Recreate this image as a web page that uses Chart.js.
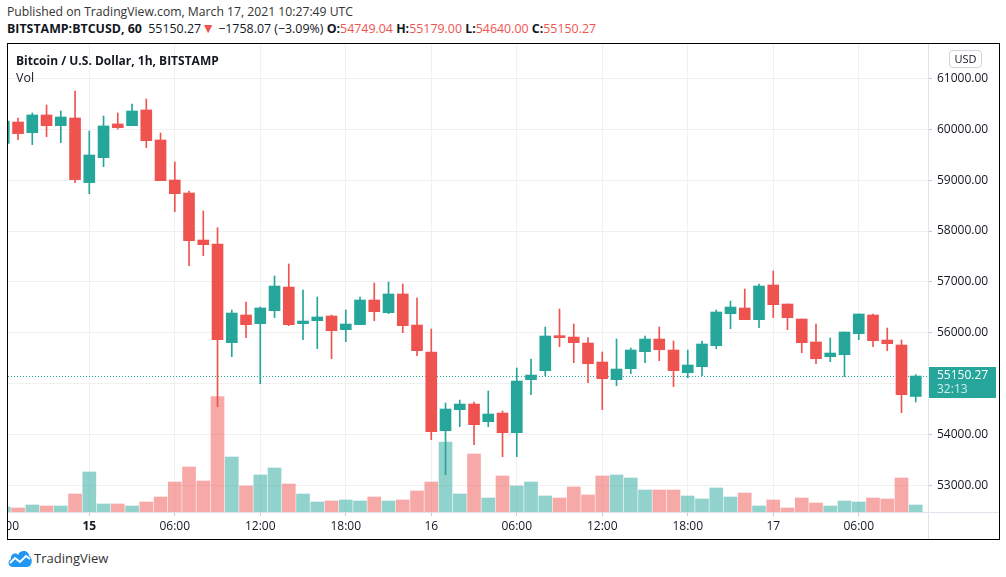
<!DOCTYPE html>
<html>
<head>
<meta charset="utf-8">
<script src="https://cdn.jsdelivr.net/npm/chart.js@4.4.1/dist/chart.umd.min.js"></script>
<style>
  body { margin: 0; background: #fff; width: 1006px; height: 577px; position: relative; overflow: hidden;
         font-family: "Open Sans", sans-serif; color: #131722; }
  .abs { position: absolute; white-space: nowrap; }
  #hdr1 { left: 7px; top: 3px; font-size: 12.2px; color: #333; }
  #hdr2 { left: 7px; top: 20px; font-size: 12.4px; line-height: 17px; color: #131722; }
  #hdr2 b { font-weight: 700; }
  .red { color: #ef5350; }
  .tri { color: #ef5350; font-size: 14px; line-height: 10px; }
  #box { left: 7px; top: 43px; width: 993px; height: 497px; border: 1px solid #000; box-sizing: border-box; }
  #pane { left: 8px; top: 44px; width: 991px; height: 495px; }
  #title { left: 16px; top: 52px; font-size: 12px; font-weight: 700; }
  #vol { left: 16px; top: 69px; font-size: 12.5px; }
  #usd { left: 949px; top: 50px; width: 33px; height: 18px; border: 1px solid #d1d4dc; border-radius: 4px;
         box-sizing: border-box; font-size: 11px; line-height: 16px; text-align: center; background: #fff; }
  #logo { left: 7px; top: 549px; }
  #brand { left: 34px; top: 549px; font-size: 13px; color: #333; }
</style>
</head>
<body>
<div id="hdr1" class="abs">Published on TradingView.com, March 17, 2021 10:27:49 UTC</div>
<div id="hdr2" class="abs"><b>BITSTAMP:BTCUSD, 60</b>&nbsp; 55150.27<span class="tri">▼</span> −1758.07 (−3.09%) <b>O:</b><span class="red">54749.04</span> <b>H:</b><span class="red">55179.00</span> <b>L:</b><span class="red">54640.00</span> <b>C:</b><span class="red">55150.27</span></div>
<div id="box" class="abs"></div>
<div id="pane" class="abs"><canvas id="c"></canvas></div>
<div id="title" class="abs">Bitcoin / U.S. Dollar, 1h, BITSTAMP</div>
<div id="vol" class="abs">Vol</div>
<div id="usd" class="abs">USD</div>
<svg id="logo" class="abs" width="26" height="18" viewBox="0 0 26 18">
  <path d="M6 18 C1 18 0 12 4 10 C3 5 9 3 11 6 C13 0 22 1 22 7 C26 8 26 18 20 18 Z" fill="#2196f3"/>
  <polyline points="3,14 8,9 13,13 19,7 23,10" fill="none" stroke="#fff" stroke-width="2"/>
</svg>
<div id="brand" class="abs">TradingView</div>

<script>
// hourly candles, Mar 14 18:00 -> Mar 17 10:00 (index 0..64)
const opens  = [59725, 60144, 59934, 60282, 60072, 60223, 58952, 59443, 60105, 60072,
                60380, 59790, 59004, 58748, 57824, 57746, 55806, 56350, 56180, 56435,
                56900, 56180, 56239, 56330, 56062, 56160, 56645, 56396, 56763, 56153,
                55623, 54076, 54489, 54600, 54253, 54423, 54037, 55079, 55256, 55944,
                55917, 55800, 55426, 55079, 55295, 55629, 55878, 55662, 55216, 55334,
                55747, 56376, 56488, 56258, 56940, 56566, 56271, 55819, 55531, 55570,
                55983, 56350, 55858, 55760, 54749.04];
const highs  = [60200, 60223, 60321, 60478, 60360, 60754, 59967, 60262, 60321, 60498,
                60596, 59928, 59358, 58788, 58395, 58067, 56448, 56606, 56507, 57117,
                57353, 56842, 56704, 56350, 56448, 56704, 56979, 56999, 56959, 56684,
                56075, 54620, 54679, 54640, 54856, 54463, 55308, 55485, 56114, 56468,
                56173, 55904, 55623, 55878, 55701, 55937, 56114, 55839, 55662, 55839,
                56448, 56625, 56861, 56959, 57215, 56566, 56271, 56173, 55898, 56016,
                56370, 56370, 56094, 55858, 55179.00];
const lows   = [59700, 59797, 59699, 59856, 59738, 58952, 58735, 59266, 60007, 60072,
                59640, 58991, 58381, 57320, 57516, 54548, 55531, 55904, 55000, 56298,
                56140, 55865, 55688, 55492, 55826, 56160, 56239, 56376, 56003, 55550,
                53899, 53211, 54155, 53801, 54155, 53565, 53565, 54784, 55157, 55727,
                55413, 55020, 54489, 54961, 55197, 55413, 55452, 54941, 55118, 55157,
                55688, 56081, 56258, 56101, 56298, 56062, 55609, 55393, 55433, 55138,
                55865, 55727, 55649, 54430, 54640.00];
const closes = [60164, 59915, 60282, 60072, 60242, 59011, 59495, 60066, 60033, 60360,
                59777, 58991, 58735, 57811, 57733, 55865, 56389, 56160, 56488, 56920,
                56160, 56232, 56311, 56042, 56173, 56645, 56416, 56763, 56140, 55649,
                54056, 54502, 54600, 54194, 54404, 54037, 55052, 55170, 55937, 55904,
                55806, 55393, 55098, 55288, 55662, 55878, 55668, 55256, 55367, 55780,
                56409, 56507, 56258, 56920, 56553, 56298, 55806, 55492, 55603, 56016,
                56370, 55845, 55786, 54784, 55150.27];
const volumes = [100, 80, 140, 120, 120, 360, 800, 160, 160, 120,
                 200, 300, 600, 900, 620, 2307, 1100, 520, 740, 880,
                 560, 360, 200, 220, 240, 220, 300, 220, 240, 420,
                 600, 1400, 360, 1160, 280, 720, 520, 600, 320, 280,
                 500, 340, 720, 740, 680, 440, 440, 440, 320, 260,
                 480, 300, 380, 120, 240, 80, 280, 180, 120, 220,
                 200, 280, 260, 680, 140];
const tickIndex  = [0, 6, 12, 18, 24, 30, 36, 42, 48, 54, 60];
const tickLabels = ['18:00', '15', '06:00', '12:00', '18:00', '16', '06:00', '12:00', '18:00', '17', '06:00'];
const tickBold   = ['15'];
const priceTicks = [53000, 54000, 55000, 56000, 57000, 58000, 59000, 60000, 61000];
const lastClose = 55150.27;
const countdown = '32:13';

const UP = '#26a69a', DOWN = '#ef5350';
const UP_VOL = 'rgba(38,166,154,0.5)', DOWN_VOL = 'rgba(239,83,80,0.5)';
const FONT = '"Open Sans", sans-serif';

const isUp = opens.map((o, i) => closes[i] >= o);
const candleColors = isUp.map(u => u ? UP : DOWN);

const overlay = {
  id: 'overlay',
  beforeDatasetsDraw(chart) {
    const { ctx, chartArea } = chart;
    const y = Math.round(chart.scales.y.getPixelForValue(lastClose)) + 0.5;
    ctx.save();
    ctx.strokeStyle = UP;
    ctx.lineWidth = 1;
    ctx.setLineDash([1, 2]);
    ctx.beginPath();
    ctx.moveTo(chartArea.left, y);
    ctx.lineTo(chartArea.right + 8, y);
    ctx.stroke();
    ctx.restore();
  },
  afterDraw(chart) {
    const { ctx, chartArea, width, height } = chart;
    ctx.save();
    ctx.strokeStyle = '#e0e3eb';
    ctx.lineWidth = 1;
    ctx.beginPath();
    ctx.moveTo(chartArea.right + 0.5, 0);
    ctx.lineTo(chartArea.right + 0.5, height);
    ctx.moveTo(0, chartArea.bottom + 0.5);
    ctx.lineTo(width, chartArea.bottom + 0.5);
    ctx.stroke();

    const y = Math.round(chart.scales.y.getPixelForValue(lastClose));
    ctx.fillStyle = UP;
    ctx.fillRect(chartArea.right + 1, y - 9, width - chartArea.right - 4, 31);
    ctx.font = '12px ' + FONT;
    ctx.textBaseline = 'middle';
    ctx.textAlign = 'left';
    ctx.fillStyle = '#fff';
    ctx.fillText(lastClose.toFixed(2), chartArea.right + 9, y);
    ctx.fillStyle = 'rgba(255,255,255,0.8)';
    ctx.fillText(countdown, chartArea.right + 9, y + 14);
    ctx.restore();
  }
};

new Chart(document.getElementById('c'), {
  type: 'bar',
  data: {
    datasets: [
      {
        label: 'Bodies',
        data: opens.map((o, i) => ({ x: i, y: [o, closes[i]] })),
        backgroundColor: candleColors,
        barThickness: 11,
        minBarLength: 1,
        yAxisID: 'y',
        order: 1
      },
      {
        label: 'Wicks',
        data: lows.map((l, i) => ({ x: i, y: [l, highs[i]] })),
        backgroundColor: candleColors,
        barThickness: 1,
        yAxisID: 'y',
        order: 2
      },
      {
        label: 'Vol',
        data: volumes.map((v, i) => ({ x: i, y: v })),
        backgroundColor: isUp.map(u => u ? UP_VOL : DOWN_VOL),
        barThickness: 13,
        yAxisID: 'yv',
        order: 3
      }
    ]
  },
  options: {
    responsive: true,
    maintainAspectRatio: false,
    animation: false,
    layout: { padding: 0, autoPadding: false },
    datasets: { bar: { grouped: false, borderWidth: 0 } },
    plugins: { legend: { display: false }, tooltip: { enabled: false } },
    scales: {
      x: {
        type: 'linear',
        min: 0.295,
        max: 64.86,
        offset: false,
        grid: { offset: false, color: '#f0f0f0', tickLength: 4, tickColor: '#c8c8c8' },
        border: { display: false },
        afterBuildTicks: s => { s.ticks = tickIndex.map(v => ({ value: v })); },
        afterFit: s => { s.height = 27; s.paddingLeft = 0; s.paddingRight = 0; },
        ticks: {
          autoSkip: false,
          maxRotation: 0,
          padding: 3,
          color: '#131722',
          font: c => ({ family: FONT, size: 12,
                        weight: c.tick && tickBold.includes(tickLabels[tickIndex.indexOf(c.tick.value)]) ? 'bold' : 'normal' }),
          callback: v => tickLabels[tickIndex.indexOf(v)]
        }
      },
      y: {
        type: 'linear',
        position: 'right',
        min: 52478,
        max: 61677,
        grid: { color: '#f0f0f0', tickLength: 4, tickColor: '#c8c8c8' },
        border: { display: false },
        afterBuildTicks: s => { s.ticks = priceTicks.map(v => ({ value: v })); },
        afterFit: s => { s.width = 71; s.paddingTop = 0; s.paddingBottom = 0; },
        ticks: {
          padding: 5,
          color: '#131722',
          font: { family: FONT, size: 12 },
          callback: v => v.toFixed(2)
        }
      },
      yv: {
        type: 'linear',
        display: false,
        min: 0,
        max: 9360
      }
    }
  },
  plugins: [overlay]
});
</script>
</body>
</html>
